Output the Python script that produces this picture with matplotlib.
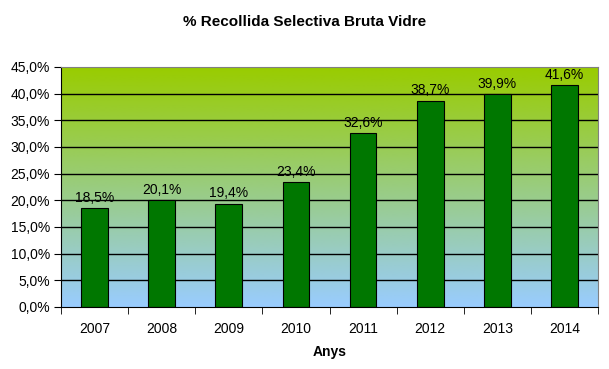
import matplotlib
matplotlib.use("Agg")
import matplotlib.pyplot as plt
import numpy as np
from matplotlib.colors import LinearSegmentedColormap

years = ["2007", "2008", "2009", "2010", "2011", "2012", "2013", "2014"]
values = [18.5, 20.1, 19.4, 23.4, 32.6, 38.7, 39.9, 41.6]
yticks = [0, 5, 10, 15, 20, 25, 30, 35, 40, 45]

plt.rcParams['font.family'] = ['Liberation Sans', 'DejaVu Sans']

fig = plt.figure(figsize=(6.09, 3.69), dpi=100)
ax = fig.add_axes([61/609, 1-307/369, (598-61)/609, (307-67)/369])

x = np.arange(len(years))
ax.set_xlim(-0.5, len(years)-0.5)
ax.set_ylim(0, 45)

cmap = LinearSegmentedColormap.from_list("bg", ["#99ccff", "#99cc00"])
grad = np.linspace(0, 1, 256).reshape(-1, 1)
ax.imshow(grad, aspect='auto', cmap=cmap, origin='lower',
          extent=[-0.5, len(years)-0.5, 0, 45], zorder=0)

for yv in yticks[1:-1]:
    ax.axhline(yv, color='black', lw=1, zorder=1)

ax.bar(x, values, width=0.4, color='#007700', edgecolor='black', lw=0.8, zorder=2)
for xi, v in zip(x, values):
    ax.text(xi, v + 0.6, f"{v:.1f}%".replace('.', ','), ha='center', va='bottom', fontsize=10, zorder=3)

ax.set_yticks(yticks)
ax.set_yticklabels([f"{v:.1f}%".replace('.', ',') for v in yticks], fontsize=10)
ax.set_xticks(x)
ax.set_xticklabels(years, fontsize=10)
ax.set_xticks(np.arange(-0.5, len(years)), minor=True)
ax.tick_params(axis='x', which='major', length=0, pad=11)
ax.tick_params(axis='x', which='minor', length=5, direction='out')
ax.tick_params(axis='y', length=5, direction='out', pad=3)

for s in ['top', 'right']:
    ax.spines[s].set_color('#808080')
for s in ['left', 'bottom']:
    ax.spines[s].set_color('black')

ax.set_xlabel("Anys", fontsize=10, fontweight='bold', labelpad=6)
fig.text(0.5, 1-22/369, "% Recollida Selectiva Bruta Vidre", ha='center', va='center',
         fontsize=11, fontweight='bold')

fig.savefig("out.png", dpi=100)
